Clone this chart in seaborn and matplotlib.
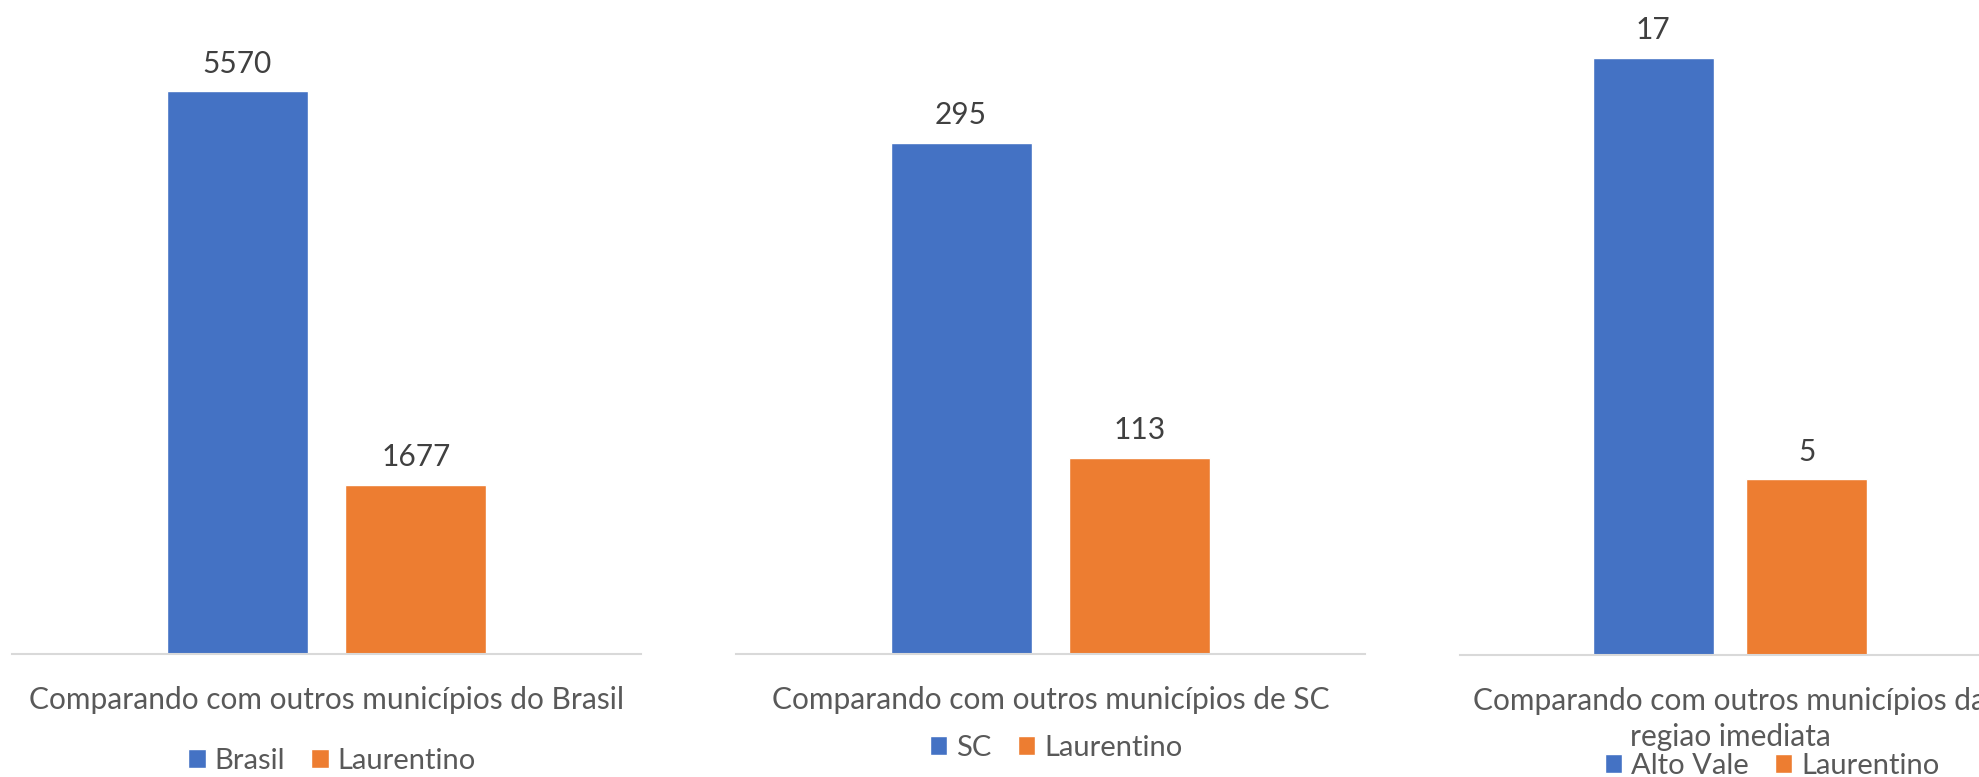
#importing necessary python libraries
import pandas as pd
import seaborn as sns
import matplotlib.pyplot as plt

#data for the three charts
categories = ["Comparando com outros municípios do Brasil",
              "Comparando com outros municípios de SC",
              "Comparando com outros municípios da\nregiao imediata"]
series_brasil = ["Brasil", "Laurentino"]
values_brasil = [5570, 1677]
series_sc = ["SC", "Laurentino"]
values_sc = [295, 113]
series_vale = ["Alto Vale", "Laurentino"]
values_vale = [17, 5]
y_max = [6000, 350, 18]

colors = ["#4472C4", "#ED7D31"]

sns.set_style("white")
plt.rcParams['font.family'] = ['Lato', 'DejaVu Sans']

W, H = 1979, 777
fig = plt.figure(figsize=(W / 100, H / 100), dpi=100)

#pixel boxes: left, axis line y, width, height, legend y
boxes = [(12, 654, 629, 606, 761),
         (736, 654, 629, 606, 748),
         (1460, 655, 540, 632, 766)]
legend_x = [332, 1056, 1772]

panels = [(series_brasil, values_brasil), (series_sc, values_sc), (series_vale, values_vale)]

for i, (series, values) in enumerate(panels):
    left, base, width, height, leg_y = boxes[i]
    ax = fig.add_axes([left / W, (H - base) / H, width / W, height / H])
    df = pd.DataFrame({'cat': [categories[i]] * 2, 'serie': series, 'valor': values})
    sns.barplot(data=df, x='cat', y='valor', hue='serie', palette=colors,
                width=0.569, gap=0.212, saturation=1, ax=ax)
    ax.set_xlim(-0.5, 0.5)
    ax.set_ylim(0, y_max[i])
    for c in ax.containers:
        ax.bar_label(c, fmt='%d', padding=10, fontsize=21.5, color='#404040')
    for s in ['top', 'right', 'left']:
        ax.spines[s].set_visible(False)
    ax.spines['bottom'].set_color('#D9D9D9')
    ax.spines['bottom'].set_linewidth(1.5)
    ax.set_yticks([])
    ax.set_xlabel('')
    ax.set_ylabel('')
    ax.tick_params(axis='x', length=0, pad=23, labelsize=21.5, labelcolor='#595959')
    for t in ax.get_xticklabels():
        t.set_linespacing(1.35)
        t.set_verticalalignment('top')
    ax.set_facecolor('none')
    sns.move_legend(ax, "center", bbox_to_anchor=(legend_x[i] / W, (H - leg_y) / H),
                    bbox_transform=fig.transFigure, ncol=2, frameon=False, title=None,
                    fontsize=21, handlelength=0.6, handleheight=0.6,
                    handletextpad=0.3, columnspacing=0.9, labelcolor='#595959')

fig.savefig("out.png", dpi=100)
